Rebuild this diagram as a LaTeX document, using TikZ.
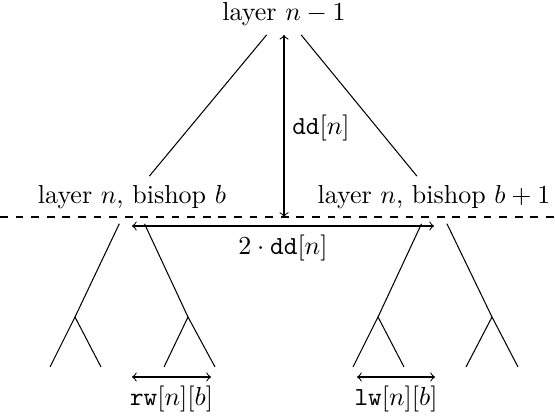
\documentclass[tikz,border=0pt]{standalone}
\begin{document}
\begin{tikzpicture}[x=0.3846pt,y=-0.3846pt,>=to,
  edge/.style={draw},
  subedge/.style={draw,shorten <=2.5pt},
  measure/.style={draw,<->}]
\useasboundingbox (0,0) rectangle (555,419);
% nodes
\node (top) at (284,14) {layer $n-1$};
\node (lb) at (132,197) {layer $n$, bishop $b$};
\node (rb) at (434,197) {layer $n$, bishop $b+1$};
% subtree apexes and leaves
\coordinate (la) at (75,317);
\coordinate (lc) at (188,317);
\coordinate (ra) at (378,317);
\coordinate (rc) at (492,317);
\coordinate (la1) at (50,367);
\coordinate (la2) at (101,367);
\coordinate (lc1) at (164,367);
\coordinate (lc2) at (215,367);
\coordinate (ra1) at (353,367);
\coordinate (ra2) at (404,367);
\coordinate (rc1) at (466,367);
\coordinate (rc2) at (518,367);
% tree edges
\path[edge] (top) -- (lb);
\path[edge] (top) -- (rb);
\path[subedge] (lb) -- (la);
\path[subedge] (lb) -- (lc);
\path[subedge] (rb) -- (ra);
\path[subedge] (rb) -- (rc);
\path[edge] (la1) -- (la) -- (la2);
\path[edge] (lc1) -- (lc) -- (lc2);
\path[edge] (ra1) -- (ra) -- (ra2);
\path[edge] (rc1) -- (rc) -- (rc2);
% dashed layer line
\coordinate (dl) at (0,217);
\coordinate (dr) at (555,217);
\draw[dashed] (dl) -- (dr);
% vertical measure
\path[measure] (top.south) -- (top.south |- dl);
\node (ddl) at (321,128) {$\texttt{dd}[n]$};
% horizontal measure between bishops
\coordinate (hl) at (132,226);
\coordinate (hr) at (434,226);
\path[measure] (hl) -- (hr) node[midway,below] (ddd) {$2\cdot\texttt{dd}[n]$};
% widths
\coordinate (rw1) at (132,377);
\coordinate (rw2) at (211,377);
\path[measure] (rw1) -- (rw2) node[midway,below] (rwl) {$\texttt{rw}[n][b]$};
\coordinate (lw1) at (357,377);
\coordinate (lw2) at (435,377);
\path[measure] (lw1) -- (lw2) node[midway,below] (lwl) {$\texttt{lw}[n][b]$};
\end{tikzpicture}
\end{document}
